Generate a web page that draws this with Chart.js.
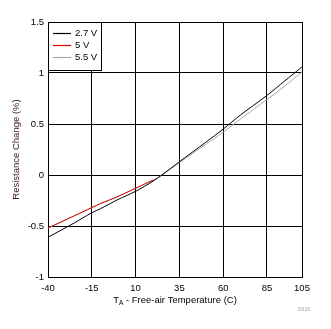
<!DOCTYPE html>
<html>
<head>
<meta charset="utf-8">
<script src="https://cdn.jsdelivr.net/npm/chart.js@4/dist/chart.umd.min.js"></script>
<style>
  html, body { margin: 0; padding: 0; background: #fff; }
  #wrap { width: 331px; height: 329px; }
</style>
</head>
<body>
<div id="wrap"><canvas id="chart" width="331" height="329"></canvas></div>
<script>
// temperature points (C) and resistance change (%) per supply voltage
const temps = [-40, -25, -15, -10, 0, 10, 20, 25, 35, 50, 60, 70, 85, 95, 105];
const r27 = [-0.61, -0.47, -0.37, -0.33, -0.24, -0.16, -0.06, 0.0, 0.13, 0.32, 0.45, 0.59, 0.78, 0.92, 1.06];
const r55 = [-0.52, -0.40, -0.32, -0.28, -0.21, -0.13, -0.05, 0.0, 0.12, 0.30, 0.42, 0.55, 0.74, 0.87, 1.01];
const r5 = [-0.52, -0.40, -0.32, -0.28, -0.21, -0.13, -0.05];
const xTicks = [-40, -15, 10, 35, 60, 85, 105];
const labels = ["2.7 V", "5 V", "5.5 V"];

const FONT = "'Liberation Sans', Arial, sans-serif";
const pts = (ys) => ys.map((y, i) => ({ x: temps[i], y: y }));

// legend box drawn inside the top-left corner of the plot
const boxLegend = {
  id: "boxLegend",
  afterDatasetsDraw(chart) {
    const { ctx, chartArea } = chart;
    const x0 = chartArea.left, y0 = chartArea.top;
    ctx.save();
    ctx.fillStyle = "#fff";
    ctx.fillRect(x0, y0, 53, 48);
    ctx.strokeStyle = "#000";
    ctx.lineWidth = 1;
    ctx.strokeRect(x0 + 0.5, y0 + 0.5, 53, 48);
    ctx.font = "9.5px " + FONT;
    ctx.textBaseline = "middle";
    chart.data.datasets.forEach((ds, i) => {
      const yy = y0 + 11 + i * 12;
      ctx.strokeStyle = ds.borderColor;
      ctx.lineWidth = 1.2;
      ctx.beginPath();
      ctx.moveTo(x0 + 5, yy + 0.5);
      ctx.lineTo(x0 + 23, yy + 0.5);
      ctx.stroke();
      ctx.fillStyle = "#000";
      ctx.fillText(ds.label, x0 + 27, yy);
    });
    ctx.restore();
  }
};

// x title with subscript A, plus the small figure tag
const xTitle = {
  id: "xTitle",
  afterDraw(chart) {
    const { ctx, chartArea } = chart;
    const cx = (chartArea.left + chartArea.right) / 2;
    const y = chartArea.bottom + 26;
    const rest = " - Free-air Temperature (C)";
    ctx.save();
    ctx.fillStyle = "#000";
    ctx.textBaseline = "alphabetic";
    ctx.font = "9.5px " + FONT;
    const wT = ctx.measureText("T").width;
    const wR = ctx.measureText(rest).width;
    ctx.font = "6.5px " + FONT;
    const wA = ctx.measureText("A").width;
    let x = cx - (wT + wA + wR) / 2;
    ctx.font = "9.5px " + FONT;
    ctx.fillText("T", x, y);
    ctx.font = "6.5px " + FONT;
    ctx.fillText("A", x + wT, y + 2);
    ctx.font = "9.5px " + FONT;
    ctx.fillText(rest, x + wT + wA, y);
    ctx.font = "5px " + FONT;
    ctx.fillStyle = "#9a9aa8";
    ctx.fillText("D019", chartArea.right - 4, chartArea.bottom + 34);
    ctx.restore();
  }
};

new Chart(document.getElementById("chart"), {
  type: "line",
  data: {
    datasets: [
      { label: labels[0], data: pts(r27), borderColor: "#000", borderWidth: 1 },
      { label: labels[1], data: pts(r5), borderColor: "#e00000", borderWidth: 1 },
      { label: labels[2], data: pts(r55), borderColor: "#a8a8a8", borderWidth: 1 }
    ]
  },
  options: {
    responsive: false,
    animation: false,
    layout: { padding: { top: 22, right: 29, left: 0, bottom: 0 } },
    elements: { point: { radius: 0 }, line: { tension: 0.3 } },
    plugins: { legend: { display: false }, tooltip: { enabled: false } },
    scales: {
      x: {
        type: "linear",
        min: -40,
        max: 105,
        afterBuildTicks(scale) { scale.ticks = xTicks.map(v => ({ value: v })); },
        afterFit(scale) { scale.height = 52; },
        grid: { color: "#000", lineWidth: 1, drawTicks: false },
        border: { color: "#000", width: 1 },
        ticks: { color: "#000", font: { family: FONT, size: 9.5 }, padding: 6, maxRotation: 0, autoSkip: false }
      },
      y: {
        min: -1,
        max: 1.5,
        ticks: {
          stepSize: 0.5, color: "#000", font: { family: FONT, size: 9.5 }, padding: 4,
          callback: (v) => String(Number(v.toFixed(1)))
        },
        afterFit(scale) { scale.width = 48; },
        grid: { color: "#000", lineWidth: 1, drawTicks: false },
        border: { color: "#000", width: 1 },
        title: { display: true, text: "Resistance Change (%)", color: "#3d1526", font: { family: FONT, size: 9.5 }, padding: { top: 11, bottom: 4 } }
      }
    }
  },
  plugins: [boxLegend, xTitle]
});
</script>
</body>
</html>
